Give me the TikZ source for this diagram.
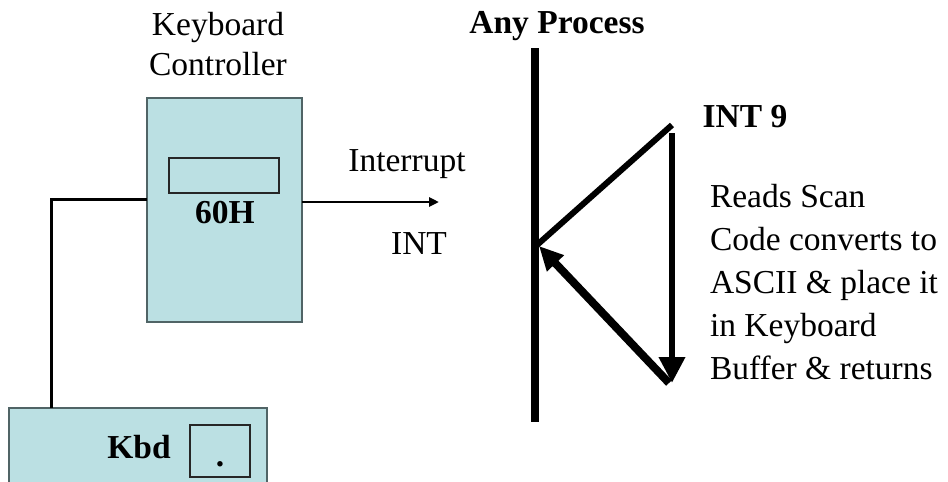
\documentclass[tikz,border=0pt]{standalone}
\usepackage{fontspec}
\setmainfont{Liberation Serif}
\usetikzlibrary{arrows.meta}
\definecolor{boxfill}{RGB}{187,224,227}
\definecolor{boxline}{RGB}{80,100,102}
\tikzset{
  box/.style={draw=boxline, fill=boxfill, line width=1.5pt, inner sep=0pt, outer sep=0pt},
  regbox/.style={draw=black!85, fill=boxfill, line width=1.2pt, inner sep=0pt, outer sep=0pt},
  txt/.style={font=\fontsize{33.5}{43}\selectfont, inner sep=0pt, outer sep=0pt},
  btxt/.style={font=\fontsize{33.5}{43}\selectfont\bfseries, inner sep=0pt, outer sep=0pt},
  wire/.style={line width=3pt},
}
\begin{document}
\begin{tikzpicture}[x=1pt,y=-1pt]
\useasboundingbox (0,0) rectangle (948,482);
\clip (0,0) rectangle (948,482);
% keyboard controller
\node[txt, anchor=base] (kbl1) at (218,35) {Keyboard};
\node[txt, anchor=base] (kbl2) at (218,75) {Controller};
\node[box, minimum width=155pt, minimum height=224pt] (kc) at (224.5,210) {};
\node[regbox, minimum width=110pt, minimum height=35pt] (reg) at (224,175.5) {};
\node[btxt, anchor=base] (h60) at (225,223) {60H};
% keyboard
\node[box, minimum width=258pt, minimum height=100pt, anchor=north west] (kbd) at (9,408) {};
\node[regbox, minimum width=60pt, minimum height=52pt] (key) at (220,451) {};
\node[btxt, anchor=base] (dot) at (220,466) {.};
\node[btxt, anchor=base] (kbdl) at (139,458) {Kbd};
% wire
\coordinate (bend) at (51,199);
\draw[wire] (kc.west |- bend) -- (bend) -- (bend |- kbd.north);
% interrupt
\coordinate (intend) at (439,202);
\draw[line width=2.5pt, -{Triangle[width=9pt,length=10pt]}] (kc.east |- intend) -- (intend);
\node[txt, anchor=base] (intr) at (407,171) {Interrupt};
\node[txt, anchor=base] (intl) at (419,254) {INT};
% process
\node[btxt, anchor=base] (proc) at (557,33) {Any Process};
\coordinate (ptop) at (535,48);
\coordinate (pbot) at (535,422);
\draw[line width=8pt] (ptop) -- (pbot);
\coordinate (hit) at (537,245);
\coordinate (isr) at (672,125);
\coordinate (dtop) at (672,133);
\coordinate (dbot) at (672,383);
\coordinate (rstart) at (669,383);
\coordinate (rend) at (539,246);
\draw[line width=6pt] (isr) -- (hit);
\draw[line width=6.5pt, -{Triangle[width=25pt,length=26pt]}] (dtop) -- (dbot);
\draw[line width=8pt, -{Triangle[width=22pt,length=24pt]}] (rstart) -- (rend);
\node[btxt, anchor=base] (int9) at (745,127) {INT 9};
\node[txt, anchor=base west, align=left] (desc) at (710,379) {Reads Scan\\Code converts to\\ASCII \& place it\\in Keyboard\\Buffer \& returns};
\end{tikzpicture}
\end{document}
